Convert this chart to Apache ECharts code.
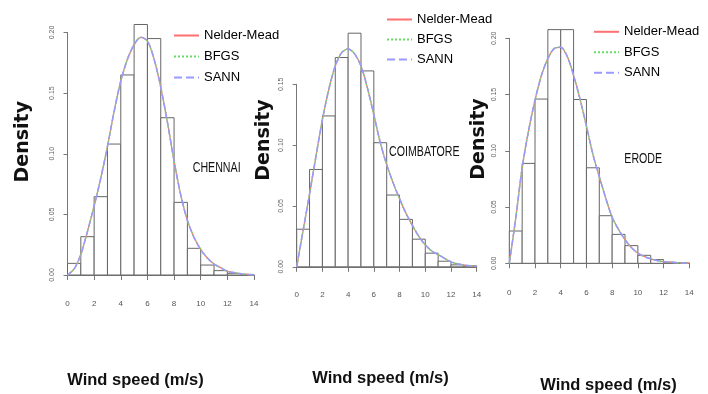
<!DOCTYPE html>
<html>
<head>
<meta charset="utf-8">
<script src="https://cdn.jsdelivr.net/npm/echarts@6/dist/echarts.min.js"></script>
<style>
html,body{margin:0;padding:0;background:#fff;}
#chart{width:708px;height:394px;}
</style>
</head>
<body>
<div id="chart"></div>
<script>
// ---- data ----
const binEdges = [0,1,2,3,4,5,6,7,8,9,10,11,12,13,14];
const stations = ['CHENNAI', 'COIMBATORE', 'ERODE'];
const methods = ['Nelder-Mead', 'BFGS', 'SANN'];
const chennaiHist    = [0.0096,0.0316,0.0646,0.108,0.165,0.2066,0.195,0.1297,0.0599,0.022,0.0082,0.0036,0.0014,0.0005];
const coimbatoreHist = [0.0309,0.080,0.124,0.172,0.192,0.161,0.102,0.059,0.039,0.0227,0.0112,0.0046,0.0016,0.0008];
const erodeHist      = [0.0287,0.0888,0.146,0.2077,0.2077,0.1456,0.0849,0.0423,0.0257,0.0157,0.0071,0.0033,0.0009,0.0003];
const curveX = [0,0.5,1,1.5,2,2.5,3,3.5,4,4.5,5,5.5,6,6.5,7,7.5,8,8.5,9,9.5,10,10.5,11,11.5,12,12.5,13,13.5,14];
const chennaiCurve    = [0,0.005,0.017,0.036,0.057,0.080,0.106,0.135,0.160,0.178,0.190,0.196,0.193,0.178,0.155,0.126,0.094,0.066,0.045,0.031,0.021,0.014,0.009,0.006,0.003,0.002,0.001,0.0005,0.0002];
const coimbatoreCurve = [0,0.030,0.060,0.091,0.121,0.146,0.165,0.176,0.179,0.175,0.165,0.147,0.125,0.102,0.084,0.069,0.056,0.044,0.034,0.025,0.018,0.013,0.010,0.007,0.004,0.0025,0.0015,0.0008,0.0004];
const erodeCurve      = [0,0.040,0.085,0.118,0.145,0.167,0.182,0.191,0.192,0.184,0.167,0.146,0.122,0.097,0.077,0.058,0.041,0.030,0.021,0.014,0.009,0.006,0.004,0.0025,0.0015,0.001,0.0005,0.0003,0.0001];
const yMaxes = [0.20, 0.15, 0.20];
const yInterval = 0.05;
const xMin = 0, xMax = 14, xInterval = 2;

// ---- layout (positions / styles) ----
const hists = [chennaiHist, coimbatoreHist, erodeHist];
const curves = [chennaiCurve, coimbatoreCurve, erodeCurve];
const grids = [
  {left: 67.5, top: 32.5, width: 186.5, height: 242.5},
  {left: 296.7, top: 84.3, width: 180, height: 182.5},
  {left: 509.3, top: 38.3, width: 180, height: 225}
];
const xOffsets = [10, 8.5, 10];
const yOffsets = [6.5, 7.2, 7];
const legendPos = [{left: 173, top: 29, gap: 8}, {left: 386, top: 13, gap: 7}, {left: 593, top: 25.3, gap: 7.5}];
const stationPos = [[192.7, 168], [389, 152], [624.3, 159.5]];
const densityPos = [[23.5, 141.7], [264.5, 140], [479, 139]];
const windPos = [[135.5, 380], [380.5, 378], [608.5, 385]];
const sans = "'Liberation Sans',Arial,sans-serif";
const methodStyles = [
  {color: '#ff7070', type: 'solid', width: 1.2},
  {color: '#66dd66', type: 'dotted', width: 1.5},
  {color: '#9a9aff', type: 'dashed', width: 1.5}
];

const option = {
  animation: false,
  backgroundColor: '#fff',
  grid: grids.map(g => Object.assign({containLabel: false}, g)),
  xAxis: grids.map((g, i) => ({
    type: 'value', gridIndex: i, min: xMin, max: xMax, interval: xInterval,
    offset: xOffsets[i],
    axisLine: {show: true, lineStyle: {color: '#777', width: 1}},
    axisTick: {show: true, length: 5, lineStyle: {color: '#777'}},
    axisLabel: {fontSize: 8, color: '#555', margin: 15, fontFamily: sans},
    splitLine: {show: false}
  })),
  yAxis: grids.map((g, i) => ({
    type: 'value', gridIndex: i, min: 0, max: yMaxes[i], interval: yInterval,
    offset: yOffsets[i],
    axisLine: {show: true, lineStyle: {color: '#777', width: 1}},
    axisTick: {show: true, length: 4, lineStyle: {color: '#777'}},
    axisLabel: {fontSize: 7, color: '#666', rotate: 90, margin: 5, formatter: v => v.toFixed(2)},
    splitLine: {show: false}
  })),
  legend: legendPos.map(p => ({
    orient: 'vertical', left: p.left, top: p.top, padding: 0,
    itemWidth: 25, itemHeight: 14, itemGap: p.gap,
    itemStyle: {opacity: 0},
    data: methods,
    textStyle: {fontFamily: sans, fontSize: 13, color: '#000'}
  })),
  series: [],
  graphic: []
};

hists.forEach((h, i) => {
  option.series.push({
    type: 'custom', xAxisIndex: i, yAxisIndex: i, clip: false,
    encode: {x: [0, 1], y: 2},
    data: h.map((v, k) => [binEdges[k], binEdges[k + 1], v]),
    renderItem: (params, api) => {
      const p0 = api.coord([api.value(0), api.value(2)]);
      const p1 = api.coord([api.value(1), 0]);
      return {type: 'rect', shape: {x: p0[0], y: p0[1], width: p1[0] - p0[0], height: p1[1] - p0[1]},
              style: {fill: '#fff', stroke: '#666', lineWidth: 1}};
    },
    silent: true, z: 1
  });
  methods.forEach((m, j) => {
    option.series.push({
      name: m, type: 'line', xAxisIndex: i, yAxisIndex: i, clip: false,
      symbol: 'none', smooth: 0.3,
      data: curveX.map((x, k) => [x, curves[i][k]]),
      lineStyle: methodStyles[j], itemStyle: {color: methodStyles[j].color},
      z: 3 + j
    });
  });
  option.graphic.push({
    type: 'text', x: stationPos[i][0], y: stationPos[i][1], scaleX: 0.76,
    style: {text: stations[i], font: "14px " + sans, fill: '#111', align: 'left', verticalAlign: 'middle'}
  });
  option.graphic.push({
    type: 'text', x: densityPos[i][0], y: densityPos[i][1], rotation: Math.PI / 2,
    style: {text: 'Density', font: "bold 19px 'DejaVu Sans',sans-serif", fill: '#111', align: 'center', verticalAlign: 'middle'}
  });
  option.graphic.push({
    type: 'text', x: windPos[i][0], y: windPos[i][1],
    style: {text: 'Wind speed (m/s)', font: "bold 16.5px " + sans, fill: '#111', align: 'center', verticalAlign: 'middle'}
  });
});

const chart = echarts.init(document.getElementById('chart'), null, {renderer: 'canvas'});
chart.setOption(option);
</script>
</body>
</html>
